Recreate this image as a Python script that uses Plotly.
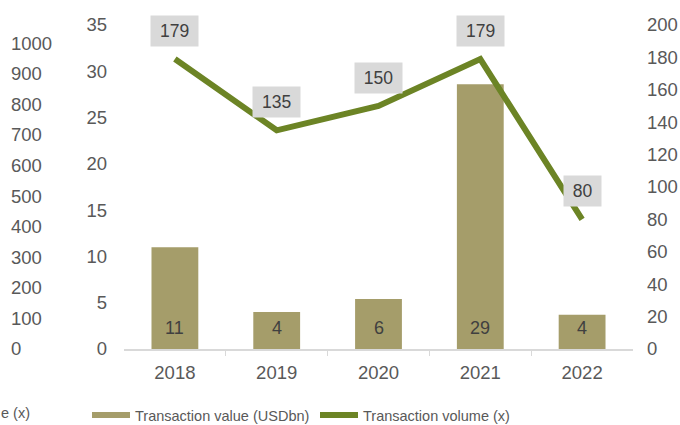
import plotly.graph_objects as go

years = ["2018", "2019", "2020", "2021", "2022"]
value_usdbn = [11.0, 4.0, 5.4, 28.6, 3.7]
value_labels = ["11", "4", "6", "29", "4"]
volume = [179, 135, 150, 179, 80]
left_ticks = [0, 5, 10, 15, 20, 25, 30, 35]
right_ticks = [0, 20, 40, 60, 80, 100, 120, 140, 160, 180, 200]
far_left_ticks = [0, 100, 200, 300, 400, 500, 600, 700, 800, 900, 1000]

BAR = "#A59D6A"
LINE = "#6C8425"
FONT = "Liberation Sans, Arial, sans-serif"
TICK = "#595959"
LABEL = "#404040"

W, H = 680, 425
ML, MR, MT, MB = 0, 47, 25, 56
plot_w = W - ML - MR
plot_h = H - MT - MB
x0 = (124 - ML) / plot_w
y_bottom_px = 349
ydom0 = (H - MB - y_bottom_px) / plot_h
main_h = y_bottom_px - MT
far_top = 1059.0
far_bottom = -(H - MB - y_bottom_px) * far_top / main_h

xi = list(range(len(years)))


def py(px):
    return (H - MB - px) / plot_h


def pxx(px):
    return (px - ML) / plot_w


fig = go.Figure()
# far-left axis carrier (drawn first, underneath)
fig.add_trace(go.Scatter(x=[xi[0]], y=[0], mode="markers",
                         marker=dict(opacity=0), xaxis="x2", yaxis="y3",
                         showlegend=False, hoverinfo="skip"))
fig.add_trace(go.Bar(
    x=xi, y=value_usdbn, marker_color=BAR, marker_line_width=0,
    width=0.46, showlegend=False, xaxis="x", yaxis="y",
))
fig.add_trace(go.Scatter(
    x=xi, y=volume, mode="lines", line=dict(color=LINE, width=6),
    xaxis="x", yaxis="y2", showlegend=False,
))
fig.add_trace(go.Scatter(x=[xi[0]], y=[-1000], mode="lines",
                         line=dict(color=BAR, width=6),
                         name="Transaction value (USDbn)",
                         xaxis="x", yaxis="y2", hoverinfo="skip"))
fig.add_trace(go.Scatter(x=[xi[0]], y=[-1000], mode="lines",
                         line=dict(color=LINE, width=6),
                         name="Transaction volume (x)",
                         xaxis="x", yaxis="y2", hoverinfo="skip"))

annotations = []
for i, lab in zip(xi, value_labels):
    annotations.append(dict(
        x=i, y=0, xref="x", yref="y", text=lab, showarrow=False,
        yanchor="middle", yshift=21,
        font=dict(size=18, color=LABEL, family=FONT),
    ))
for i, v in zip(xi, volume):
    s = str(v)
    annotations.append(dict(
        x=i, y=v, xref="x", yref="y2", text=s, showarrow=False,
        yshift=28, bgcolor="#D9D9D9", borderpad=6,
        width=len(s) * 9.7 + 6, height=18,
        font=dict(size=17.5, color=LABEL, family=FONT),
    ))
annotations.append(dict(
    x=0, y=py(413), xref="paper", yref="paper", text="e (x)", showarrow=False,
    xanchor="left", yanchor="middle", xshift=-1,
    font=dict(size=14.5, color=TICK, family=FONT),
))

fig.update_layout(
    width=W, height=H,
    margin=dict(l=ML, r=MR, t=MT, b=MB, autoexpand=False),
    paper_bgcolor="white", plot_bgcolor="rgba(0,0,0,0)",
    font=dict(family=FONT, size=18.5, color=TICK),
    xaxis=dict(domain=[x0, 1], range=[-0.5, len(years) - 0.5],
               tickvals=xi, ticktext=years, showgrid=False, zeroline=False,
               showline=True, linecolor="#D9D9D9", linewidth=1.5,
               ticks="", ticklabelstandoff=6,
               tickfont=dict(size=18.5, color=TICK), anchor="y"),
    xaxis2=dict(domain=[x0, 1], range=[-0.5, len(years) - 0.5],
                tickvals=[i + 0.5 for i in xi[:-1]], ticks="outside",
                ticklen=6, tickcolor="#D9D9D9", showticklabels=False,
                showgrid=False, zeroline=False, overlaying="x",
                anchor="y", side="bottom"),
    yaxis=dict(domain=[ydom0, 1], range=[0, 35], tickvals=left_ticks,
               showgrid=False, showline=False, zeroline=False,
               ticklabelstandoff=16, tickfont=dict(size=18.5, color=TICK)),
    yaxis2=dict(range=[0, 200], tickvals=right_ticks, overlaying="y",
                side="right", showgrid=False, showline=False, zeroline=False,
                anchor="x", ticklabelstandoff=13,
                tickfont=dict(size=18.5, color=TICK)),
    yaxis3=dict(domain=[0, 1], range=[far_bottom, far_top],
                tickvals=far_left_ticks, anchor="free", position=pxx(7),
                side="left", ticklabelposition="inside", showgrid=False,
                showline=False, zeroline=False,
                tickfont=dict(size=18.5, color=TICK)),
    legend=dict(orientation="h", x=pxx(87), xanchor="left",
                y=py(399), yanchor="top",
                font=dict(size=14.5, color=TICK, family=FONT),
                entrywidth=175, itemwidth=38),
    annotations=annotations,
)

fig.write_html("out.html", config={"displayModeBar": False},
               post_script="document.body.style.margin='0px';")
